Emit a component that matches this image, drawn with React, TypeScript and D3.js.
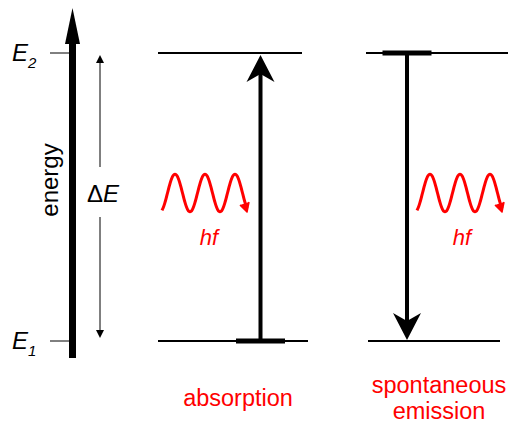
import React from "react";
import * as d3 from "d3";

// energy levels (arbitrary units)
const levelNames = ["2", "1"];
const levelEnergy = [2, 1];
// the two transitions
const transitions = ["absorption", "emission"];
const transitionFrom = [1, 2];
const transitionTo = [2, 1];
const transitionLabel = [["absorption"], ["spontaneous", "emission"]];

const W = 510;
const H = 425;
const RED = "#ff0000";
const FONT = "'Liberation Sans', Arial, sans-serif";

const y = d3.scaleLinear().domain([1, 2]).range([341, 53]);

function arrowHead(tx: number, ty: number, dir: number, w = 14, h = 27, notch = 8) {
  // dir = -1 pointing up, 1 pointing down
  const by = ty - dir * h;
  const ny = ty - dir * (h - notch);
  return `M${tx},${ty} L${tx + w},${by} L${tx},${ny} L${tx - w},${by} Z`;
}

function wavePath(x0: number, cy: number) {
  const period = 30;
  const amp = 19;
  const xs = d3.range(x0, x0 + 86, 1);
  const line = d3
    .line<number>()
    .x((x) => x)
    .y((x) => cy - amp * Math.sin(((x - (x0 + 5.5)) / period) * 2 * Math.PI))
    .curve(d3.curveBasis);
  return line(xs) as string;
}

const App = () => {
  const yLow = y(1);
  const yHigh = y(2);
  return (
    <svg
      width={W}
      height={H}
      viewBox={`0 0 ${W} ${H}`}
      style={{ position: "absolute", left: 0, top: 0, background: "#fff" }}
      fontFamily={FONT}
    >
      {/* energy axis */}
      <rect x={69} y={40} width={7} height={358 - 40} fill="#000" />
      <path d={`M72.5,8 L80,44 L65,44 Z`} fill="#000" />
      <text transform={`translate(58,180) rotate(-90)`} textAnchor="middle" fontSize={24} fill="#000">
        energy
      </text>

      {/* level ticks and labels */}
      {levelNames.map((n, i) => (
        <g key={n}>
          <line x1={50} x2={70} y1={y(levelEnergy[i])} y2={y(levelEnergy[i])} stroke="#000" strokeWidth={1} />
          <text x={12} y={y(levelEnergy[i]) + 8} fontSize={24} fontStyle="italic" fill="#000">
            E
            <tspan fontSize={15} dy={7}>
              {n}
            </tspan>
          </text>
        </g>
      ))}

      {/* ΔE double arrow */}
      <line x1={100} x2={100} y1={yHigh + 6} y2={167} stroke="#000" strokeWidth={1} />
      <line x1={100} x2={100} y1={217} y2={yLow - 6} stroke="#000" strokeWidth={1} />
      <path d={`M100,${yHigh + 2} L104,${yHigh + 10} L96,${yHigh + 10} Z`} fill="#000" />
      <path d={`M100,${yLow - 3} L104,${yLow - 11} L96,${yLow - 11} Z`} fill="#000" />
      <text x={87} y={202} fontSize={24} fill="#000">
        Δ<tspan fontStyle="italic">E</tspan>
      </text>

      {transitions.map((t, i) => {
        const ax = t === "absorption" ? 260.5 : 407;
        const yFrom = y(transitionFrom[i]);
        const yTo = y(transitionTo[i]);
        const dir = yTo < yFrom ? -1 : 1;
        const rightEnd = t === "absorption" ? [302, 308] : [508, 500];
        const leftEnd = t === "absorption" ? [158, 158] : [366, 368];
        const waveX = t === "absorption" ? 162 : 417;
        return (
          <g key={t}>
            {/* levels */}
            <line x1={leftEnd[1]} x2={rightEnd[1]} y1={yLow} y2={yLow} stroke="#000" strokeWidth={2} />
            <line x1={leftEnd[0]} x2={rightEnd[0]} y1={yHigh} y2={yHigh} stroke="#000" strokeWidth={2} />
            {/* occupied state */}
            <rect x={ax - 24.5} y={yFrom - 2.5} width={49} height={5} fill="#000" />
            {/* transition arrow */}
            <line x1={ax} x2={ax} y1={yFrom} y2={yTo - dir * 20} stroke="#000" strokeWidth={4} />
            <path d={arrowHead(ax, yTo + (dir < 0 ? 2 : -1), dir)} fill="#000" />
            {/* photon */}
            <path d={wavePath(waveX, 193)} fill="none" stroke={RED} strokeWidth={3} />
            <path
              d={`M${waveX + 87},${202} L${waveX + 85},${212} L${waveX + 78},${205}`}
              fill={RED}
              stroke={RED}
              strokeWidth={1.5}
              strokeLinejoin="round"
            />
            <text
              x={waveX + (t === "absorption" ? 47 : 45)}
              y={245}
              fontSize={22}
              fontStyle="italic"
              fill={RED}
              textAnchor="middle"
            >
              hf
            </text>
            {transitionLabel[i].map((s, k) => (
              <text
                key={s}
                x={t === "absorption" ? 238 : 439}
                y={(t === "absorption" ? 406 : 393) + k * 26}
                fontSize={23.5}
                fill={RED}
                textAnchor="middle"
              >
                {s}
              </text>
            ))}
          </g>
        );
      })}
    </svg>
  );
};

export default App;
